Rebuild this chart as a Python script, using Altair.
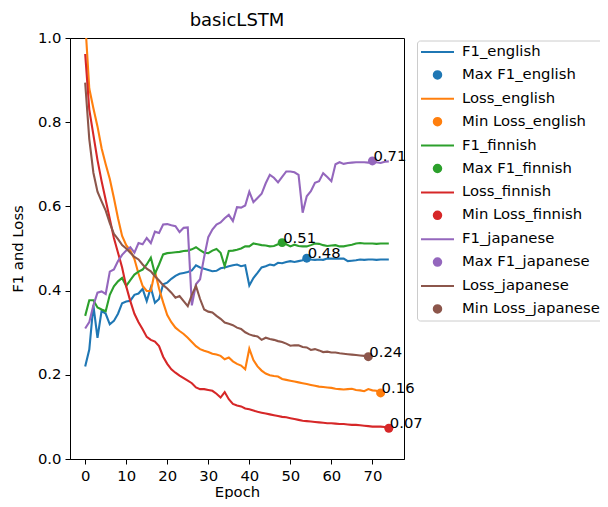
import altair as alt
import pandas as pd
import numpy as np

# ---------------- data ----------------
f1_english = [0.22, 0.26, 0.365, 0.288, 0.352, 0.345, 0.32, 0.328, 0.345, 0.37,
              0.374, 0.376, 0.39, 0.393, 0.404, 0.375, 0.407, 0.371, 0.38, 0.415,
              0.419, 0.428, 0.435, 0.44, 0.442, 0.444, 0.448, 0.46, 0.455, 0.452,
              0.449, 0.446, 0.447, 0.453, 0.455, 0.458, 0.46, 0.462, 0.458, 0.46,
              0.412, 0.43, 0.442, 0.455, 0.458, 0.462, 0.46, 0.466, 0.465, 0.468,
              0.47, 0.468, 0.47, 0.472, 0.477, 0.474, 0.473, 0.474, 0.473, 0.476,
              0.476, 0.476, 0.476, 0.476, 0.47, 0.471, 0.472, 0.474, 0.473, 0.474,
              0.474, 0.473, 0.474, 0.474, 0.474]
loss_english = [1.04, 0.88, 0.833, 0.79, 0.738, 0.70, 0.665, 0.62, 0.572, 0.53,
                0.508, 0.495, 0.475, 0.44, 0.411, 0.399, 0.399, 0.446, 0.405, 0.372,
                0.342, 0.325, 0.312, 0.304, 0.297, 0.288, 0.278, 0.268, 0.261, 0.257,
                0.254, 0.25, 0.248, 0.245, 0.237, 0.241, 0.232, 0.226, 0.222, 0.213,
                0.262, 0.235, 0.22, 0.21, 0.203, 0.199, 0.197, 0.196, 0.19, 0.188,
                0.186, 0.184, 0.182, 0.18, 0.178, 0.176, 0.174, 0.172, 0.171, 0.17,
                0.169, 0.167, 0.166, 0.165, 0.166, 0.167, 0.164, 0.163, 0.161, 0.166,
                0.163, 0.162, 0.157]
f1_finnish = [0.34, 0.377, 0.377, 0.36, 0.355, 0.351, 0.39, 0.41, 0.422, 0.43,
              0.411, 0.425, 0.438, 0.445, 0.45, 0.462, 0.478, 0.44, 0.462, 0.486,
              0.489, 0.49, 0.491, 0.492, 0.494, 0.495, 0.498, 0.503, 0.496, 0.49,
              0.489, 0.495, 0.499, 0.49, 0.458, 0.494, 0.495, 0.497, 0.5, 0.505,
              0.505, 0.512, 0.51, 0.508, 0.507, 0.505, 0.506, 0.51, 0.514, 0.51,
              0.505, 0.509, 0.506, 0.505, 0.505, 0.508, 0.512, 0.511, 0.508, 0.506,
              0.507, 0.508, 0.505, 0.505, 0.507, 0.509, 0.512, 0.513, 0.512, 0.512,
              0.512, 0.511, 0.512, 0.512, 0.512]
loss_finnish = [0.962, 0.83, 0.77, 0.71, 0.66, 0.615, 0.57, 0.525, 0.49, 0.455,
                0.41, 0.375, 0.345, 0.325, 0.308, 0.29, 0.283, 0.279, 0.268, 0.243,
                0.226, 0.213, 0.205, 0.198, 0.192, 0.186, 0.18, 0.17, 0.166, 0.166,
                0.164, 0.162, 0.155, 0.146, 0.159, 0.142, 0.131, 0.127, 0.125, 0.12,
                0.118, 0.115, 0.112, 0.11, 0.108, 0.106, 0.104, 0.102, 0.1, 0.099,
                0.097, 0.095, 0.093, 0.091, 0.09, 0.089, 0.088, 0.087, 0.086, 0.085,
                0.085, 0.084, 0.083, 0.083, 0.082, 0.081, 0.081, 0.08, 0.079, 0.078,
                0.077, 0.077, 0.077, 0.076, 0.073]
f1_japanese = [0.31, 0.325, 0.365, 0.395, 0.398, 0.392, 0.445, 0.45, 0.47, 0.485,
               0.495, 0.503, 0.49, 0.513, 0.51, 0.525, 0.513, 0.54, 0.537, 0.557,
               0.558, 0.555, 0.553, 0.539, 0.549, 0.55, 0.365, 0.415, 0.427, 0.48,
               0.527, 0.545, 0.557, 0.562, 0.572, 0.58, 0.565, 0.598, 0.597, 0.602,
               0.635, 0.61, 0.62, 0.63, 0.655, 0.675, 0.668, 0.657, 0.67, 0.683,
               0.683, 0.681, 0.675, 0.585, 0.624, 0.636, 0.656, 0.66, 0.679, 0.67,
               0.66, 0.7, 0.705, 0.701, 0.703, 0.704, 0.705, 0.705, 0.705, 0.704,
               0.708, 0.705, 0.703, 0.706, 0.707]
loss_japanese = [0.894, 0.76, 0.68, 0.635, 0.612, 0.59, 0.56, 0.535, 0.522, 0.508,
                 0.5, 0.49, 0.48, 0.474, 0.462, 0.452, 0.446, 0.434, 0.424, 0.413,
                 0.405, 0.395, 0.383, 0.387, 0.375, 0.363, 0.39, 0.411, 0.38, 0.355,
                 0.35, 0.348, 0.34, 0.333, 0.324, 0.321, 0.318, 0.312, 0.309, 0.301,
                 0.296, 0.293, 0.291, 0.283, 0.288, 0.285, 0.283, 0.28, 0.278, 0.274,
                 0.269, 0.27, 0.27, 0.266, 0.265, 0.259, 0.261, 0.258, 0.254, 0.255,
                 0.253, 0.253, 0.251, 0.25, 0.249, 0.248, 0.247, 0.246, 0.245, 0.243]

series_names = ["F1_english", "Loss_english", "F1_finnish", "Loss_finnish",
                "F1_japanese", "Loss_japanese"]
series_values = [f1_english, loss_english, f1_finnish, loss_finnish,
                 f1_japanese, loss_japanese]
series_colors = ["#1f77b4", "#ff7f0e", "#2ca02c", "#d62728", "#9467bd", "#8c564b"]

x_ticks = [0, 10, 20, 30, 40, 50, 60, 70]
y_ticks = [0.0, 0.2, 0.4, 0.6, 0.8, 1.0]

# ---------------- tables ----------------
line_rows = []
marker_rows = []
legend_domain = []
legend_colors = []
for name, vals, col in zip(series_names, series_values, series_colors):
    for e, v in enumerate(vals):
        line_rows.append({"epoch": e, "value": v, "series": name})
    arr = np.array(vals)
    if name.startswith("F1"):
        idx = int(np.argmax(arr))
        mlabel = "Max " + name
    else:
        idx = int(np.argmin(arr))
        mlabel = "Min " + name
    marker_rows.append({"epoch": idx, "value": float(arr[idx]), "series": mlabel})
    legend_domain += [name, mlabel]
    legend_colors += [col, col]

lines_df = pd.DataFrame(line_rows)
markers_df = pd.DataFrame(marker_rows)

FONT = "DejaVu Sans"
FS = 14.8

is_marker = "indexof(datum.value, 'M') === 0"
circle_path = "M-0.5,0A0.5,0.5,0,1,0,0.5,0A0.5,0.5,0,1,0,-0.5,0Z"
stroke_path = "M-2.2,0L2.2,0"
legend = alt.Legend(
    title=None,
    orient="none",
    legendX=347,
    legendY=2.5,
    direction="vertical",
    labelFont=FONT,
    labelFontSize=FS,
    labelColor="black",
    labelOffset=16,
    symbolSize=225,
    symbolOffset=9,
    symbolStrokeWidth=2,
    symbolOpacity=1,
    symbolType=alt.ExprRef(expr=f"{is_marker} ? '{circle_path}' : '{stroke_path}'"),
    symbolFillColor=alt.ExprRef(expr=f"{is_marker} ? scale('color', datum.value) : 'transparent'"),
    rowPadding=6.9,
    padding=3,
    strokeColor="#cccccc",
    fillColor="white",
    cornerRadius=3,
)

color_scale = alt.Scale(domain=legend_domain, range=legend_colors)

x_enc = alt.X("epoch:Q", scale=alt.Scale(domain=[-3.7, 77.7], nice=False, zero=False),
              axis=alt.Axis(values=x_ticks, title="Epoch", format="d",
                            titleY=33, titleBaseline="middle"))
y_enc = alt.Y("value:Q", scale=alt.Scale(domain=[0, 1], nice=False),
              axis=alt.Axis(values=y_ticks, title="F1 and Loss", format=".1f",
                            titleX=-52, titleY=210.5, titleBaseline="middle"))

lines = alt.Chart(lines_df).mark_line(strokeWidth=2.1, clip=True).encode(
    x=x_enc, y=y_enc,
    color=alt.Color("series:N", scale=color_scale, legend=legend),
)

points = alt.Chart(markers_df).mark_point(filled=True, size=80, opacity=1).encode(
    x="epoch:Q", y="value:Q",
    color=alt.Color("series:N", scale=color_scale, legend=legend),
)

texts = alt.Chart(markers_df).mark_text(
    align="left", baseline="alphabetic", font=FONT, fontSize=FS, color="black", dx=1
).encode(
    x="epoch:Q", y="value:Q",
    text=alt.Text("value:Q", format=".2f"),
)

chart = alt.layer(lines, points, texts).properties(
    width=334,
    height=421,
    title=alt.TitleParams("basicLSTM", font=FONT, fontSize=18, fontWeight="normal",
                          color="black", anchor="middle", baseline="bottom",
                          frame="group", offset=9, dy=27),
    autosize=alt.AutoSizeParams(type="none"),
    padding={"left": 62, "top": 30, "right": 196, "bottom": 40},
).configure_view(
    stroke="black", strokeWidth=1
).configure_axis(
    grid=False,
    domainColor="black",
    tickColor="black",
    tickSize=5,
    labelFont=FONT,
    labelFontSize=FS,
    labelColor="black",
    labelPadding=4,
    titleFont=FONT,
    titleFontSize=FS,
    titleFontWeight="normal",
    titleColor="black",
)

chart.save("out.html", embed_options={"renderer": "svg", "actions": False})
